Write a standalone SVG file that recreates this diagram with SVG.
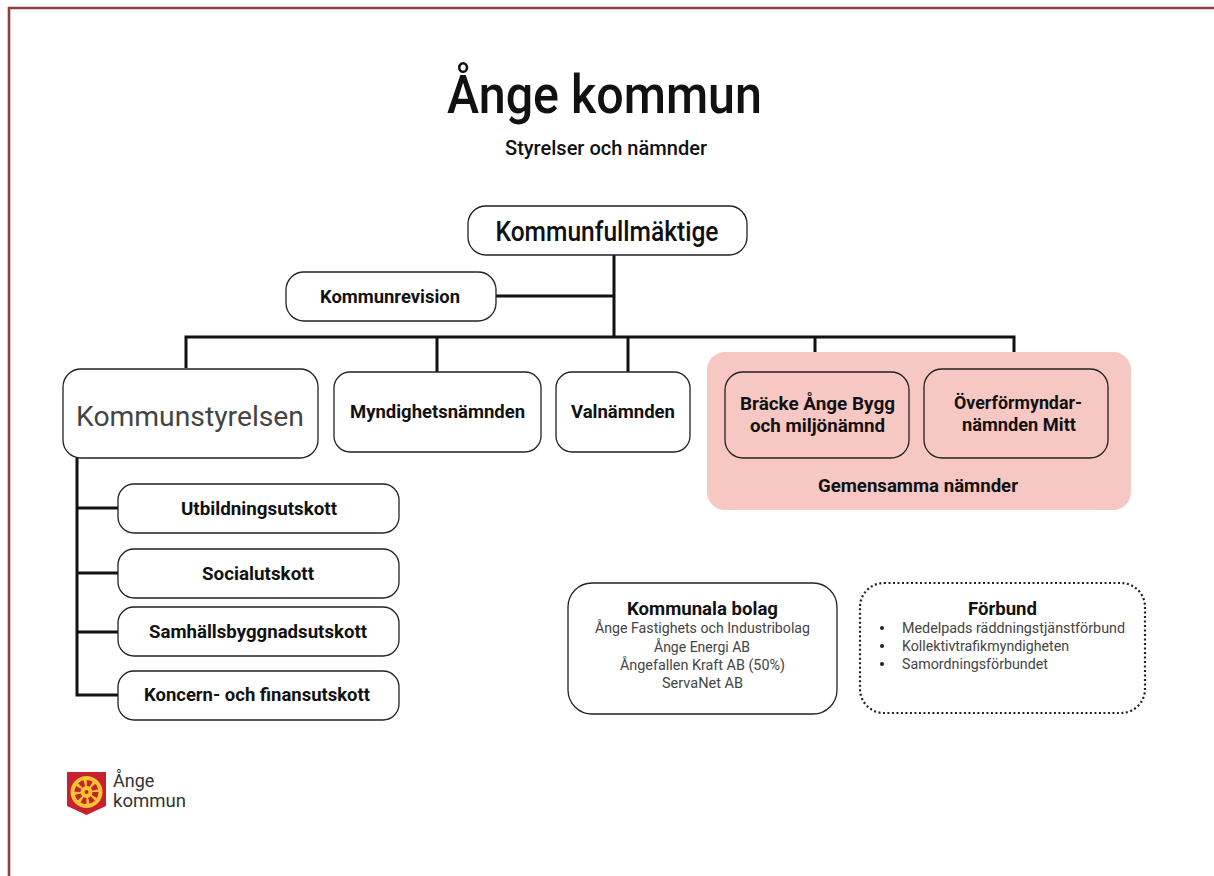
<svg xmlns="http://www.w3.org/2000/svg" width="1214" height="876" viewBox="0 0 1214 876">
<style>
text{font-family:"Roboto","Liberation Sans",sans-serif;fill:#111;text-anchor:middle}
.b{font-weight:700;font-size:18px}
.n{fill:#fff;stroke:#222;stroke-width:1.3}
.s{font-size:14.500px;fill:#444}
.c{fill:none;stroke:#111;stroke-width:3}
.l{text-anchor:start}
.p{fill:#f7c8c3;stroke:#222;stroke-width:1.3}
.g{fill:#333;text-anchor:start}
</style>
<rect width="1214" height="876" fill="#fff"/>
<path d="M9 876V8H1214" fill="none" stroke="#8f3f3c" stroke-width="2.6"/>
<g id="title">
<text x="604.500" y="113" font-size="54" font-weight="500" textLength="315" lengthAdjust="spacingAndGlyphs">Ånge kommun</text>
<text x="606" y="155" font-size="20" font-weight="500" textLength="202" lengthAdjust="spacingAndGlyphs">Styrelser och nämnder</text>
</g>
<g id="connectors">
<path class="c" d="M614 255V337M496 296H614M186 368V337H1014V368M437 337V372M628 337V372M815 337V372"/>
<path class="c" d="M77 458V695H118M77 508H118M77 573H118M77 632H118"/>
</g>
<g id="gemensamma"><rect x="707" y="352" width="424" height="158" rx="18" fill="#f7c8c3"/>
<text class="b" x="918" y="492" textLength="200" lengthAdjust="spacingAndGlyphs">Gemensamma nämnder</text></g>
<g id="kommunfullmaktige"><rect class="n" x="468" y="206" width="279" height="49" rx="18"/><text x="607" y="241" font-size="27" font-weight="500" textLength="223" lengthAdjust="spacingAndGlyphs">Kommunfullmäktige</text></g>
<g id="kommunrevision"><rect class="n" x="286" y="272" width="210" height="49" rx="18"/><text class="b" x="390" y="303" textLength="140" lengthAdjust="spacingAndGlyphs">Kommunrevision</text></g>
<g id="kommunstyrelsen"><rect class="n" x="63" y="369" width="255" height="89" rx="18"/><text x="190" y="426" font-size="27" font-weight="400" style="fill:#444" textLength="228" lengthAdjust="spacingAndGlyphs">Kommunstyrelsen</text></g>
<g id="myndighetsnamnden"><rect class="n" x="334" y="372" width="207" height="80" rx="16"/><text class="b" x="437.500" y="418" textLength="175" lengthAdjust="spacingAndGlyphs">Myndighetsnämnden</text></g>
<g id="valnamnden"><rect class="n" x="556" y="372" width="134" height="80" rx="16"/><text class="b" x="623" y="418" textLength="104" lengthAdjust="spacingAndGlyphs">Valnämnden</text></g>
<g id="bracke"><rect class="p" x="725" y="372" width="184" height="86" rx="18"/><text class="b" x="817.500" y="410" textLength="155" lengthAdjust="spacingAndGlyphs">Bräcke Ånge Bygg</text><text class="b" x="817.500" y="432" textLength="135" lengthAdjust="spacingAndGlyphs">och miljönämnd</text></g>
<g id="overformyndar"><rect class="p" x="924" y="369" width="184" height="89" rx="18"/><text class="b" x="1018" y="409" textLength="128" lengthAdjust="spacingAndGlyphs">Överförmyndar-</text><text class="b" x="1019" y="431" textLength="114" lengthAdjust="spacingAndGlyphs">nämnden Mitt</text></g>
<g id="utbildningsutskott"><rect class="n" x="118" y="484" width="281" height="49" rx="16"/><text class="b" x="259" y="515" textLength="156" lengthAdjust="spacingAndGlyphs">Utbildningsutskott</text></g>
<g id="socialutskott"><rect class="n" x="118" y="549" width="281" height="49" rx="16"/><text class="b" x="258" y="580" textLength="112" lengthAdjust="spacingAndGlyphs">Socialutskott</text></g>
<g id="samhallsbyggnadsutskott"><rect class="n" x="118" y="607" width="281" height="49" rx="16"/><text class="b" x="258" y="638" textLength="218" lengthAdjust="spacingAndGlyphs">Samhällsbyggnadsutskott</text></g>
<g id="koncern"><rect class="n" x="118" y="671" width="281" height="49" rx="16"/><text class="b" x="257" y="701" textLength="226" lengthAdjust="spacingAndGlyphs">Koncern- och finansutskott</text></g>
<g id="kommunala-bolag"><rect class="n" x="568" y="583" width="269" height="131" rx="24"/>
<text class="b" x="702.500" y="615" textLength="151" lengthAdjust="spacingAndGlyphs">Kommunala bolag</text>
<text class="s" x="702.500" y="633" textLength="215" lengthAdjust="spacingAndGlyphs">Ånge Fastighets och Industribolag</text>
<text class="s" x="702" y="652" textLength="96" lengthAdjust="spacingAndGlyphs">Ånge Energi AB</text>
<text class="s" x="702.500" y="670" textLength="165" lengthAdjust="spacingAndGlyphs">Ångefallen Kraft AB (50%)</text>
<text class="s" x="702.500" y="688" textLength="81" lengthAdjust="spacingAndGlyphs">ServaNet AB</text></g>
<g id="forbund"><rect x="860" y="583" width="285" height="130" rx="24" fill="#fff" stroke="#222" stroke-width="2.2" stroke-dasharray="2 2.5"/>
<text class="b" x="1002.500" y="615" textLength="69" lengthAdjust="spacingAndGlyphs">Förbund</text>
<circle cx="882" cy="628" r="2" fill="#222"/><circle cx="882" cy="646" r="2" fill="#222"/><circle cx="882" cy="664" r="2" fill="#222"/>
<text class="s l" x="902" y="633" textLength="223" lengthAdjust="spacingAndGlyphs">Medelpads räddningstjänstförbund</text>
<text class="s l" x="902" y="651" textLength="167" lengthAdjust="spacingAndGlyphs">Kollektivtrafikmyndigheten</text>
<text class="s l" x="902" y="669" textLength="146" lengthAdjust="spacingAndGlyphs">Samordningsförbundet</text></g>
<g id="logo">
<path d="M67 772H106V806L86.500 815L67 806Z" fill="#c8202f"/>
<circle cx="86.500" cy="792" r="16" fill="#f5c431"/>
<circle cx="86.500" cy="792" r="9" fill="none" stroke="#c8202f" stroke-width="6" stroke-dasharray="4.600 2.470"/>
<circle cx="86.500" cy="792" r="2" fill="#c8202f"/>
<text class="g" x="113" y="787" font-size="18">Ånge</text>
<text class="g" x="113" y="807" font-size="18" textLength="73" lengthAdjust="spacingAndGlyphs">kommun</text>
</g>
</svg>
